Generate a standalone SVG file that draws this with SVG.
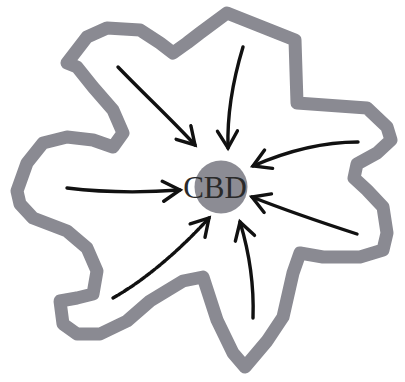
<svg xmlns="http://www.w3.org/2000/svg" width="405" height="382" viewBox="0 0 405 382">
<style>
.outline{fill:none;stroke:#8a8a92;stroke-width:13;stroke-linejoin:round;stroke-linecap:round}
.arrow{fill:none;stroke:#111;stroke-width:3.4;stroke-linecap:round;marker-end:url(#head)}
.dotted{stroke-dasharray:5 1.6}
.label{font-family:"Liberation Serif","Times New Roman",serif;font-size:31px;fill:#2a2a2a;text-anchor:middle}
</style>
<defs>
<marker id="head" markerUnits="userSpaceOnUse" viewBox="-20 -12 24 24" refX="0" refY="0" markerWidth="24" markerHeight="24" orient="auto">
<path d="M-17,-10 L0,0 L-17,10" fill="none" stroke="#111" stroke-width="3.4" stroke-linecap="round" stroke-linejoin="miter"/>
</marker>
</defs>
<rect width="405" height="382" fill="#fff"/>
<g id="region">
<path class="outline" d="M67,63 L87,37 L107,28 L140,30 L160,43 L173,53 L187,43 L200,33 L227,13 L295,40 L297,103 L367,108 L387,127 L391,140 L377,153 L357,164 L354,178 L367,190 L383,207 L387,233 L383,250 L360,257 L323,257 L300,253 L293,273 L283,317 L267,341 L245,367 L233,353 L217,320 L203,277 L183,281 L150,301 L127,321 L100,334 L77,334 L63,324 L60,301 L77,298 L93,294 L97,271 L87,248 L67,231 L33,218 L20,204 L17,191 L27,163 L43,143 L67,137 L93,140 L113,147 L123,133 L113,110 L93,87 L77,67 Z"/>
</g>
<g id="cbd">
<circle cx="221" cy="187" r="26.5" fill="#8c8c94"/>
<text class="label" x="215" y="198">CBD</text>
</g>
<g id="connectors">
<path class="arrow" d="M118,67 C145,95 172,120 195,145"/>
<path class="arrow" d="M243,47 C233,80 227,115 228,148"/>
<path class="arrow" d="M358,142 C320,142 285,152 253,166"/>
<path class="arrow" d="M67,188 C100,192 140,193 180,190"/>
<path class="arrow" d="M357,234 C320,222 285,210 252,197"/>
<path class="arrow dotted" d="M113,298 C145,280 180,250 209,218"/>
<path class="arrow" d="M253,318 C254,290 250,255 240,222"/>
</g>
</svg>
